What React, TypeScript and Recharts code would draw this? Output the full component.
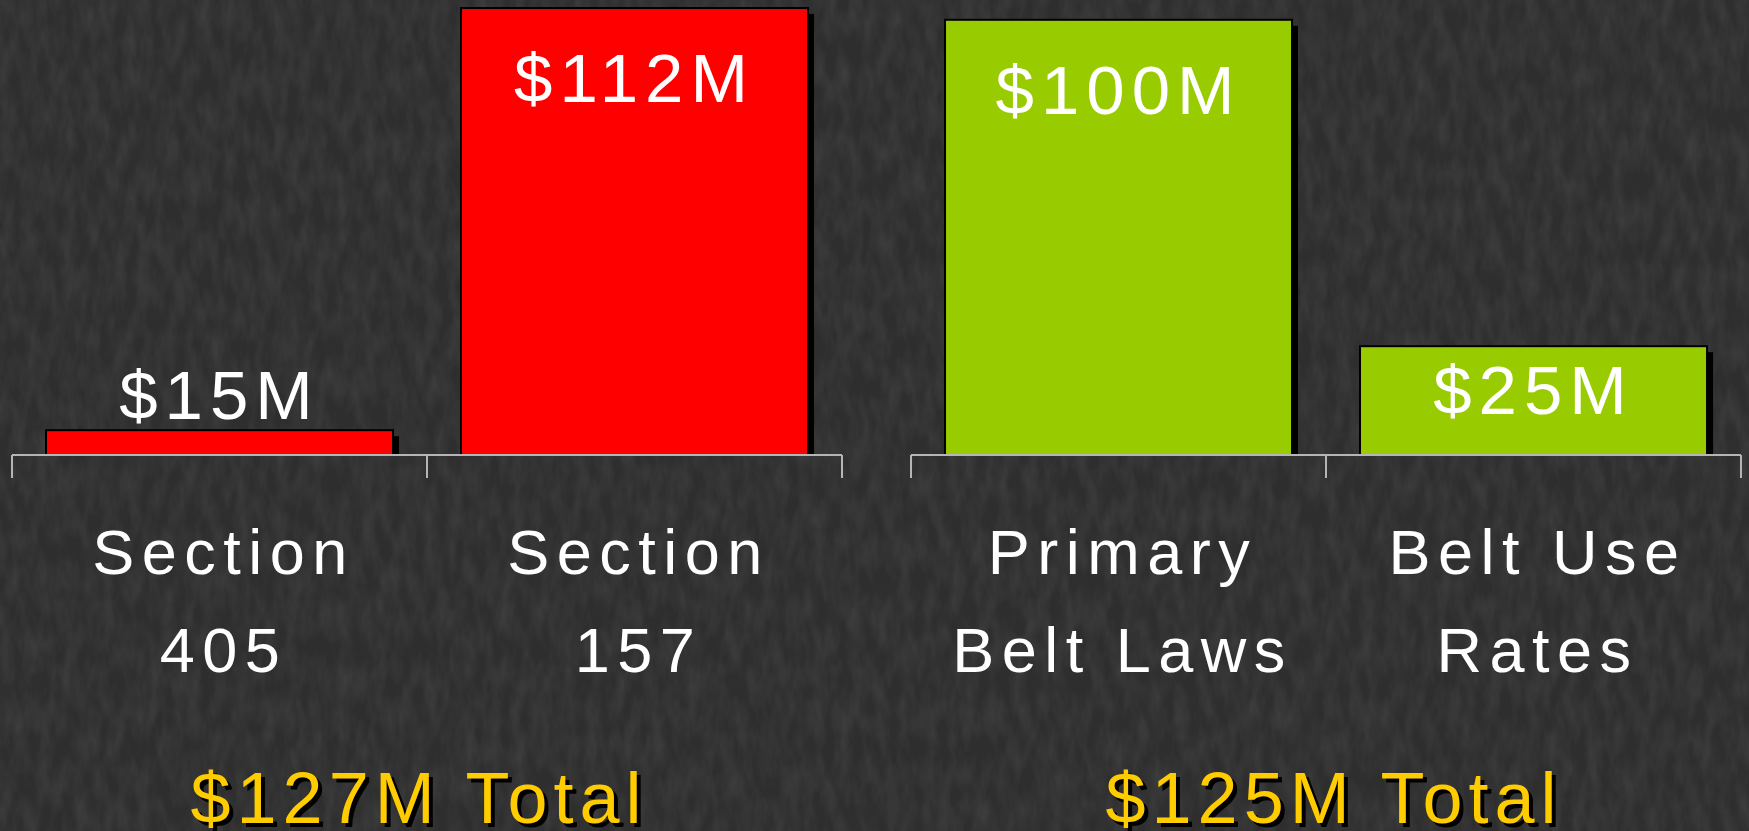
import React from 'react';
import { BarChart, Bar, XAxis, YAxis, LabelList, Label } from 'recharts';

// ---- data ----
const leftCategories = [['Section', '405'], ['Section', '157']];
const leftValues = [15, 112];
const rightCategories = [['Primary', 'Belt Laws'], ['Belt Use', 'Rates']];
const rightValues = [100, 25];
const leftDomain: [number, number] = [9.3, 112.7];
const rightDomain: [number, number] = [0, 103.4];

const leftColor = '#FF0000';
const rightColor = '#99CC00';
const FONT = '"Liberation Sans", Arial, Helvetica, sans-serif';
const AXIS_COLOR = '#b5b5b5';

const makeData = (cats: string[][], vals: number[]) =>
  cats.map((c, i) => ({ name: c.join('\n'), value: vals[i] }));

const leftData = makeData(leftCategories, leftValues);
const rightData = makeData(rightCategories, rightValues);
const sum = (a: number[]) => a.reduce((s, v) => s + v, 0);

const makeTick = (count: number) => (props: any) => {
  const { x, y, payload, index } = props;
  const half = payload && typeof payload.offset === 'number' && payload.offset > 0 ? payload.offset : 207.5;
  const lines = String(payload.value).split('\n');
  const isLast = index === count - 1;
  return (
    <g>
      <line x1={x - half} x2={x - half} y1={y} y2={y + 23} stroke={AXIS_COLOR} strokeWidth={2} />
      {isLast && <line x1={x + half} x2={x + half} y1={y} y2={y + 23} stroke={AXIS_COLOR} strokeWidth={2} />}
      {lines.map((l, i) => (
        <text
          key={i}
          x={x}
          dx={4}
          y={y + 119 + i * 98}
          textAnchor="middle"
          fill="#ffffff"
          fontSize={63}
          fontFamily={FONT}
          letterSpacing={7.5}
        >
          {l}
        </text>
      ))}
    </g>
  );
};

const BarShape = (props: any) => {
  const { x, y, width, height, fill } = props;
  if (!height || height <= 0) return null;
  return (
    <g>
      <rect x={x + 6} y={y + 6} width={width} height={Math.max(height - 3, 0)} fill="#000" />
      <rect x={x} y={y} width={width} height={height} fill={fill} stroke="#000" strokeWidth={2} />
    </g>
  );
};

const ValueLabel = (props: any) => {
  const { x, y, width, height, value } = props;
  const cx = x + width / 2;
  let by: number;
  if (height > 200) by = y + 94;
  else if (height > 80) by = y + 68;
  else by = y - 11;
  return (
    <text x={cx} y={by} textAnchor="middle" fill="#ffffff" fontSize={69} fontFamily={FONT} letterSpacing={7}>
      {`$${value}M`}
    </text>
  );
};

const makeTotal = (text: string, dx: number) => (props: any) => {
  const vb = props.viewBox || {};
  const cx = vb.x + vb.width / 2 + dx;
  const by = vb.y + vb.height - 8;
  const common = { textAnchor: 'middle' as const, fontSize: 72, fontFamily: FONT, letterSpacing: 6 };
  return (
    <g>
      <text x={cx + 4} y={by + 4} fill="#000000" {...common}>{text}</text>
      <text x={cx} y={by} fill="#FFCC00" {...common}>{text}</text>
    </g>
  );
};

const Panel = ({ data, domain, color, total, dx, left, width, margin }: any) => (
  <div style={{ position: 'absolute', left, top: 0 }}>
    <BarChart width={width} height={831} data={data} margin={margin} barCategoryGap="8.2%">
      <YAxis hide domain={domain} type="number" allowDataOverflow />
      <XAxis
        dataKey="name"
        height={376}
        tickSize={0}
        tickMargin={0}
        interval={0}
        axisLine={{ stroke: AXIS_COLOR, strokeWidth: 2 }}
        tickLine={false}
        tick={makeTick(data.length)}
      >
        <Label content={makeTotal(total, dx)} />
      </XAxis>
      <Bar dataKey="value" fill={color} isAnimationActive={false} shape={<BarShape />}>
        <LabelList dataKey="value" content={<ValueLabel />} />
      </Bar>
    </BarChart>
  </div>
);

export default function App() {
  return (
    <div
      style={{
        position: 'absolute',
        left: 0,
        top: 0,
        width: 1749,
        height: 831,
        overflow: 'hidden',
        background: '#303030',
      }}
    >
      <svg width={1749} height={831} style={{ position: 'absolute', left: 0, top: 0 }}>
        <defs>
          <filter id="bgNoise" x="0" y="0" width="100%" height="100%">
            <feTurbulence type="fractalNoise" baseFrequency="0.08 0.03" numOctaves={3} seed={7} />
            <feColorMatrix type="matrix" values="0 0 0 0 1  0 0 0 0 1  0 0 0 0 1  1 0 0 0 -0.3" />
          </filter>
        </defs>
        <rect x={0} y={0} width={1749} height={831} fill="#2e2e2e" />
        <rect x={0} y={0} width={1749} height={831} filter="url(#bgNoise)" opacity={0.12} />
      </svg>
      <Panel
        data={leftData}
        domain={leftDomain}
        color={leftColor}
        total={`$${sum(leftValues)}M Total`}
        dx={-8}
        left={0}
        width={870}
        margin={{ top: 5, right: 28, left: 12, bottom: 0 }}
      />
      <Panel
        data={rightData}
        domain={rightDomain}
        color={rightColor}
        total={`$${sum(rightValues)}M Total`}
        dx={8}
        left={899}
        width={850}
        margin={{ top: 5, right: 8, left: 12, bottom: 0 }}
      />
    </div>
  );
}
